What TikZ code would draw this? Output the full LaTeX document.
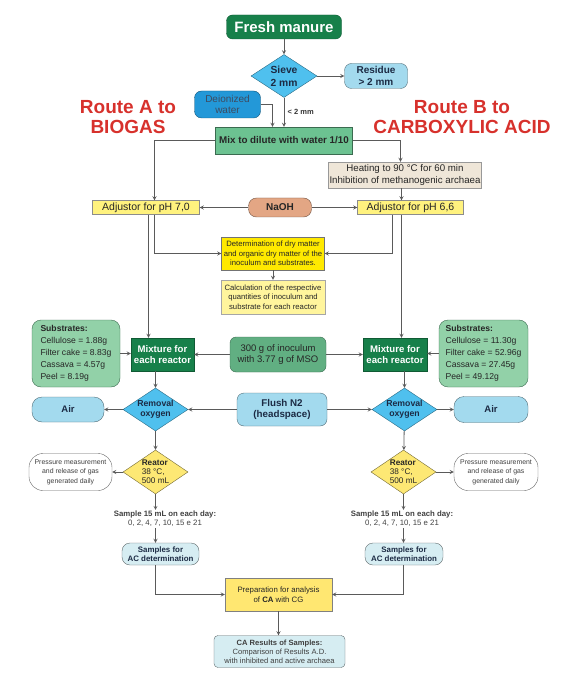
\documentclass[tikz,border=0pt]{standalone}
\usepackage{fontspec}
\setmainfont{Liberation Sans}
\usepackage{tikz}
\usetikzlibrary{shapes.geometric, arrows}

\definecolor{darkgreen}{HTML}{17804A}
\definecolor{midgreen}{HTML}{6CC291}
\definecolor{palegreen}{HTML}{92D1A8}
\definecolor{skyblue}{HTML}{4FC0EE}
\definecolor{lightblue}{HTML}{A3DAEE}
\definecolor{waterblue}{HTML}{2398D8}
\definecolor{beige}{HTML}{EFE6D8}
\definecolor{paleyellow}{HTML}{FFF27E}
\definecolor{brightyellow}{HTML}{FFE900}
\definecolor{calcyellow}{HTML}{FFF59D}
\definecolor{reactyellow}{HTML}{FDE874}
\definecolor{salmon}{HTML}{E3A684}
\definecolor{paleblue}{HTML}{D6EDF2}
\definecolor{routered}{HTML}{D7312C}
\definecolor{linegray}{HTML}{5A5A5A}
\definecolor{navy}{HTML}{1C2B44}

\tikzstyle{terminal} = [rectangle, rounded corners=6pt, draw=darkgreen!70!black, fill=darkgreen,
    text=white, align=center, inner sep=0pt]
\tikzstyle{mixture} = [rectangle, draw=darkgreen!70!black, fill=darkgreen, text=white,
    font=\fontsize{9.6}{11}\selectfont\bfseries, align=center, minimum width=63pt, minimum height=33pt, inner sep=0pt]
\tikzstyle{decision} = [diamond, aspect=1.5, draw=skyblue!55!black, fill=skyblue, text=navy,
    font=\fontsize{8.7}{10}\selectfont\bfseries, align=center, inner sep=0pt, minimum width=65pt, minimum height=43pt]
\tikzstyle{softbox} = [rectangle, rounded corners=7pt, draw=lightblue!50!black, fill=lightblue, text=navy,
    font=\fontsize{9.5}{11}\selectfont\bfseries, align=center, inner sep=0pt]
\tikzstyle{stage} = [rectangle, rounded corners=6pt, draw=midgreen!55!black, fill=midgreen, text=black!85,
    align=center, inner sep=0pt]
\tikzstyle{process} = [rectangle, draw=black!45, fill=paleyellow, text=black!85, align=center, inner sep=0pt]
\tikzstyle{note} = [rectangle, rounded corners=14pt, draw=black!60, fill=white, text=black!75,
    font=\fontsize{6.9}{9.5}\selectfont, align=center, inner sep=0pt, minimum width=83pt, minimum height=37pt]
\tikzstyle{sample} = [text=black!75, font=\fontsize{7.8}{9}\selectfont, align=center, inner sep=1pt]
\tikzstyle{route} = [text=routered, font=\fontsize{19}{20}\selectfont\bfseries, align=center]
\tikzstyle{arrow} = [draw=linegray, line width=0.8pt, ->, >=stealth]

\begin{document}
\begin{tikzpicture}[x=1pt, y=-1pt, node distance=40pt]
    \useasboundingbox (0,0) rectangle (571,684);

    \node (manure) [terminal, minimum width=115pt, minimum height=24pt, font=\fontsize{15}{18}\selectfont\bfseries] at (284,27) {Fresh manure};
    \node (sieve) [decision, below of=manure, yshift=-9pt, minimum width=66pt, font=\fontsize{10.3}{13}\selectfont\bfseries] {Sieve\\2 mm};
    \node (residue) [softbox, right of=sieve, xshift=52pt, minimum width=63pt, minimum height=25pt, font=\fontsize{10}{12}\selectfont\bfseries] {Residue\\> 2 mm};
    \node (mix) [stage, below of=sieve, yshift=-24.5pt, rounded corners=0pt, minimum width=137pt, minimum height=27pt, font=\fontsize{9.8}{12}\selectfont\bfseries] {Mix to dilute with water 1/10};
    \node (water) [softbox, above of=mix, xshift=-56.5pt, yshift=-4pt, fill=waterblue, draw=waterblue!55!black, minimum width=66pt, minimum height=27pt, font=\fontsize{10}{11}\selectfont, text=navy!85] {Deionized\\water};
    \node (routeA) [route] at (128,117) {Route A to\\BIOGAS};
    \node (routeB) [route] at (462,117) {Route B to\\CARBOXYLIC ACID};

    \node (heating) [process, below of=mix, xshift=121pt, yshift=5.5pt, fill=beige, draw=black!40, minimum width=153pt, minimum height=26pt, font=\fontsize{9.7}{11.5}\selectfont] {Heating to 90 °C for 60 min\\Inhibition of methanogenic archaea};
    \node (naoh) [softbox, below of=mix, xshift=-4pt, yshift=-27pt, fill=salmon, draw=salmon!50!black, rounded corners=8pt, minimum width=63pt, minimum height=19pt, font=\fontsize{10}{12}\selectfont\bfseries, text=black!85] {NaOH};
    \node (adjA) [process, left of=naoh, xshift=-94pt, minimum width=107pt, minimum height=14pt, font=\fontsize{10.5}{12}\selectfont] {Adjustor for pH 7,0};
    \node (adjB) [process, below of=heating, xshift=5.5pt, yshift=7.5pt, minimum width=106pt, minimum height=14pt, font=\fontsize{10.5}{12}\selectfont] {Adjustor for pH 6,6};
    \node (determ) [process, below of=naoh, xshift=-7pt, yshift=-6pt, fill=brightyellow, draw=black!55, minimum width=103pt, minimum height=33pt, font=\fontsize{7.7}{9.5}\selectfont] {Determination of dry matter\\and organic dry matter of the\\inoculum and substrates.};
    \node (calc) [process, below of=determ, yshift=-3.5pt, fill=calcyellow, draw=black!35, minimum width=104pt, minimum height=34pt, font=\fontsize{7.7}{9.5}\selectfont] {Calculation of the respective\\quantities of inoculum and\\substrate for each reactor};

    \node (inoc) [stage, below of=calc, xshift=5pt, yshift=-17.5pt, fill=midgreen!90!black, minimum width=96pt, minimum height=35pt, font=\fontsize{9.5}{11}\selectfont] {300 g of inoculum\\with 3.77 g of MSO};
    \node (mixA) [mixture, left of=inoc, xshift=-75.5pt] {Mixture for\\each reactor};
    \node (mixB) [mixture, right of=inoc, xshift=77pt, minimum width=64pt] {Mixture for\\each reactor};
    \node (subA) [stage, left of=mixA, xshift=-46.5pt, yshift=1pt, rounded corners=9pt, fill=palegreen, align=left, minimum width=88pt, minimum height=67pt, font=\fontsize{8.6}{12}\selectfont] {\textbf{Substrates:}\\Cellulose = 1.88g\\Filter cake = 8.83g\\Cassava = 4.57g\\Peel = 8.19g};
    \node (subB) [stage, right of=mixB, xshift=48.5pt, yshift=1pt, rounded corners=9pt, fill=palegreen, align=left, minimum width=89pt, minimum height=67pt, font=\fontsize{8.6}{12}\selectfont] {\textbf{Substrates:}\\Cellulose = 11.30g\\Filter cake = 52.96g\\Cassava = 27.45g\\Peel = 49.12g};

    \node (remA) [decision, below of=mixA, xshift=-7pt, yshift=-15pt] {Removal\\oxygen};
    \node (remB) [decision, below of=mixB, xshift=9.5pt, yshift=-15pt] {Removal\\oxygen};
    \node (flush) [softbox, below of=inoc, xshift=4pt, yshift=-15pt, minimum width=90pt, minimum height=33pt, font=\fontsize{9.8}{11}\selectfont\bfseries] {Flush N2\\(headspace)};
    \node (airA) [softbox, left of=remA, xshift=-47.5pt, rounded corners=10pt, minimum width=72pt, minimum height=25pt] {Air};
    \node (airB) [softbox, right of=remB, xshift=46.5pt, rounded corners=10pt, minimum width=74pt, minimum height=26pt] {Air};

    \node (reactA) [decision, below of=remA, yshift=-22.5pt, fill=reactyellow, draw=reactyellow!45!black, text=black!85, align=left, minimum height=44pt, font=\fontsize{8.2}{9}\selectfont] {\textbf{Reator}\\38 °C,\\500 mL};
    \node (reactB) [decision, below of=remB, xshift=-1pt, yshift=-22.5pt, fill=reactyellow, draw=reactyellow!45!black, text=black!85, align=left, minimum height=44pt, font=\fontsize{8.2}{9}\selectfont] {\textbf{Reator}\\38 °C,\\500 mL};
    \node (pressA) [note, left of=reactA, xshift=-45pt] {Pressure measurement\\and release of gas\\generated daily};
    \node (pressB) [note, right of=reactB, xshift=52.5pt, minimum width=84pt] {Pressure measurement\\and release of gas\\generated daily};

    \node (sampA) [sample, below of=reactA, xshift=9.5pt, yshift=-7pt] {\textbf{Sample 15 mL on each day:}\\0, 2, 4, 7, 10, 15 e 21};
    \node (sampB) [sample, below of=reactB, xshift=-1.5pt, yshift=-7pt] {\textbf{Sample 15 mL on each day:}\\0, 2, 4, 7, 10, 15 e 21};
    \node (samplesA) [softbox, below of=sampA, xshift=-4.5pt, yshift=5pt, fill=paleblue, draw=paleblue!45!black, rounded corners=8pt, minimum width=77pt, minimum height=22pt, font=\fontsize{7.9}{9.5}\selectfont\bfseries] {Samples for\\AC determination};
    \node (samplesB) [softbox, below of=sampB, xshift=2pt, yshift=5pt, fill=paleblue, draw=paleblue!45!black, rounded corners=8pt, minimum width=78pt, minimum height=22pt, font=\fontsize{7.9}{9.5}\selectfont\bfseries] {Samples for\\AC determination};
    \node (prep) [process, below of=flush, xshift=-3.5pt, yshift=-145pt, fill=paleyellow!90!orange, draw=black!50, minimum width=107pt, minimum height=33pt, font=\fontsize{7.8}{9.5}\selectfont] {Preparation for analysis\\of \textbf{CA} with CG};
    \node (results) [softbox, below of=prep, xshift=1pt, yshift=-17pt, fill=paleblue, draw=paleblue!45!black, rounded corners=4pt, minimum width=131pt, minimum height=32pt, font=\fontsize{7.6}{9}\selectfont, text=black!75] {\textbf{CA Results of Samples:}\\Comparison of Results A.D.\\with inhibited and active archaea};

    \draw [arrow] (manure) -- (sieve);
    \draw [arrow] (sieve) -- (residue);
    \draw [arrow] (sieve.south) -- (sieve.south |- mix.north) node[midway, right, font=\fontsize{7.5}{9}\selectfont\bfseries, text=black!80] {< 2 mm};
    \draw [arrow] (water.east) -| ([xshift=-11.5pt]mix.north);
    \draw [arrow] (mix.west) -| ([xshift=8.5pt]adjA.north);
    \draw [arrow] (mix.east) -| ([xshift=-4.5pt]heating.north);
    \draw [arrow] ([xshift=-3.5pt]heating.south) -- ([xshift=-3.5pt]heating.south |- adjB.north);
    \draw [arrow] (naoh.west) -- (naoh.west -| adjA.east);
    \draw [arrow] (naoh.east) -- (naoh.east -| adjB.west);
    \draw [arrow] ([xshift=8.5pt]adjA.south) |- (determ.west);
    \draw [arrow] ([xshift=-18pt]adjB.south) |- (determ.east);
    \draw [arrow] (determ.south) -- (determ.south |- calc.north);
    \draw [arrow] ([xshift=2.5pt]adjA.south) -- ([xshift=2.5pt]adjA.south |- mixA.north);
    \draw [arrow] ([xshift=-9pt]adjB.south) -- ([xshift=-9pt]adjB.south |- mixB.north);
    \draw [arrow] (subA.east) -- (subA.east -| mixA.west);
    \draw [arrow] (subB.west) -- (subB.west -| mixB.east);
    \draw [arrow] (inoc) -- (mixA);
    \draw [arrow] (inoc) -- (mixB);
    \draw [arrow] (remA.north |- mixA.south) -- (remA.north);
    \draw [arrow] (remB.north |- mixB.south) -- (remB.north);
    \draw [arrow] (flush) -- (remA);
    \draw [arrow] (flush) -- (remB);
    \draw [arrow] (remA) -- (airA);
    \draw [arrow] (remB) -- (airB);
    \draw [arrow] (remA) -- (reactA);
    \draw [arrow] (remB) -- (reactB);
    \draw [arrow] (reactA) -- (pressA);
    \draw [arrow] (reactB) -- (pressB);
    \draw [arrow] (reactA.south) -- (reactA.south |- sampA.north);
    \draw [arrow] (reactB.south) -- (reactB.south |- sampB.north);
    \draw [arrow] (reactA.south |- sampA.south) -- (reactA.south |- samplesA.north);
    \draw [arrow] (reactB.south |- sampB.south) -- (reactB.south |- samplesB.north);
    \draw [arrow] (reactA.south |- samplesA.south) |- (prep.west);
    \draw [arrow] (reactB.south |- samplesB.south) |- (prep.east);
    \draw [arrow] (prep.south) -- (prep.south |- results.north);
\end{tikzpicture}
\end{document}
